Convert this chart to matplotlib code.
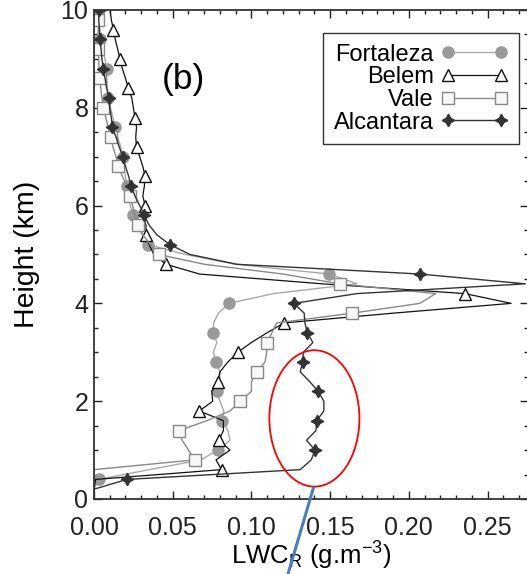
import matplotlib.pyplot as plt
import matplotlib.transforms as mtransforms
from matplotlib.lines import Line2D
from matplotlib.patches import Ellipse
from matplotlib.ticker import MultipleLocator

plt.rcParams['font.family'] = ['Liberation Sans', 'DejaVu Sans']
plt.rcParams['mathtext.fontset'] = 'custom'
plt.rcParams['mathtext.rm'] = 'Liberation Sans'
plt.rcParams['mathtext.default'] = 'regular'

################################################################################
# data: LWC_R profiles (g/m3) every 0.2 km
################################################################################
height = [0.0, 0.2, 0.4, 0.6, 0.8, 1.0, 1.2, 1.4, 1.6, 1.8,
          2.0, 2.2, 2.4, 2.6, 2.8, 3.0, 3.2, 3.4, 3.6, 3.8,
          4.0, 4.2, 4.4, 4.6, 4.8, 5.0, 5.2, 5.4, 5.6, 5.8,
          6.0, 6.2, 6.4, 6.6, 6.8, 7.0, 7.2, 7.4, 7.6, 7.8,
          8.0, 8.2, 8.4, 8.6, 8.8, 9.0, 9.2, 9.4, 9.6, 9.8, 10.0]

fortaleza = [0.0, 0.0, 0.003, 0.035, 0.068, 0.0786, 0.0864, 0.085, 0.0815, 0.0825,
             0.080, 0.078, 0.080, 0.080, 0.0775, 0.0758, 0.078, 0.0758, 0.076, 0.079,
             0.0858, 0.114, 0.167, 0.1495, 0.090, 0.058, 0.0345, 0.031, 0.027, 0.025,
             0.023, 0.022, 0.0208, 0.020, 0.019, 0.0186, 0.017, 0.015, 0.0133, 0.012,
             0.0105, 0.009, 0.0085, 0.008, 0.008, 0.007, 0.005, 0.004, 0.0035, 0.003, 0.003]

belem = [0.0, 0.0, 0.001, 0.081, 0.0775, 0.0864, 0.0794, 0.0822, 0.0822, 0.0669,
         0.0754, 0.0748, 0.0786, 0.080, 0.085, 0.0913, 0.100, 0.110, 0.1207, 0.190,
         0.265, 0.2357, 0.145, 0.067, 0.0457, 0.038, 0.035, 0.033, 0.033, 0.031,
         0.0324, 0.031, 0.032, 0.0324, 0.031, 0.029, 0.027, 0.0265, 0.027, 0.026,
         0.025, 0.024, 0.0218, 0.020, 0.018, 0.0165, 0.015, 0.0135, 0.0123, 0.011, 0.0102]

vale = [0.0, 0.0, 0.0, 0.0, 0.064, 0.060, 0.056, 0.054, 0.0716, 0.0864,
        0.0928, 0.100, 0.100, 0.1035, 0.1086, 0.1097, 0.110, 0.113, 0.116, 0.164,
        0.207, 0.217, 0.156, 0.120, 0.070, 0.041, 0.036, 0.031, 0.028, 0.026,
        0.0245, 0.023, 0.021, 0.018, 0.0155, 0.014, 0.012, 0.0108, 0.009, 0.0075,
        0.006, 0.005, 0.0043, 0.0036, 0.0032, 0.003, 0.0028, 0.0026, 0.0027, 0.0028, 0.003]

alcantara = [0.0, 0.0, 0.0208, 0.131, 0.138, 0.1404, 0.135, 0.141, 0.1415, 0.146,
             0.146, 0.1425, 0.137, 0.131, 0.1325, 0.133, 0.139, 0.1355, 0.134, 0.1335,
             0.127, 0.167, 0.274, 0.207, 0.0906, 0.061, 0.0483, 0.040, 0.035, 0.032,
             0.029, 0.026, 0.0235, 0.022, 0.020, 0.0182, 0.016, 0.014, 0.0116, 0.011,
             0.010, 0.0095, 0.008, 0.007, 0.006, 0.005, 0.0045, 0.0038, 0.0035, 0.003, 0.003]

labels = ['Fortaleza', 'Belem', 'Vale', 'Alcantara']

################################################################################
# styles
################################################################################
star4 = (4, 1, 0)
styles = [
    dict(color='#a8a8a8', lw=1.0, marker='o', ms=8, mfc='#999999', mec='#999999', markevery=(2, 3)),
    dict(color='#111111', lw=0.9, marker='^', ms=9, mfc='white', mec='#111111', mew=1.0, markevery=(3, 3)),
    dict(color='#888888', lw=1.0, marker='s', ms=9, mfc='#f7f7f7', mec='#888888', mew=1.0, markevery=(4, 3)),
    dict(color='#333333', lw=1.0, marker=star4, ms=9, mfc='#333333', mec='#333333', markevery=(2, 3)),
]

fig = plt.figure(figsize=(5.27, 5.74), dpi=100)
ax = fig.add_axes([0.1784, 0.1307, 0.8235, 0.8519])

for series, st in zip([fortaleza, belem, vale, alcantara], styles):
    ax.plot(series, height, **st)

ax.set_xlim(0, 0.2757)
ax.set_ylim(0, 10)
ax.xaxis.set_major_locator(MultipleLocator(0.05))
ax.xaxis.set_minor_locator(MultipleLocator(0.01))
ax.yaxis.set_major_locator(MultipleLocator(2))
ax.yaxis.set_minor_locator(MultipleLocator(0.5))
ax.xaxis.set_major_formatter(plt.FormatStrFormatter('%.2f'))
ax.tick_params(which='both', direction='in', top=True, right=True,
               colors='#222222', width=1.0, labelsize=18)
ax.tick_params(which='major', length=5.5)
ax.tick_params(which='minor', length=3)
ax.tick_params(axis='x', pad=12)
ax.tick_params(axis='y', pad=4)
for sp in ax.spines.values():
    sp.set_color('#333333')
    sp.set_linewidth(1.3)

# nudge the end labels of the y axis like the original (0 up, 10 down)
yticks = ax.yaxis.get_major_ticks()
lab0 = yticks[0].label1
lab0.set_transform(lab0.get_transform() + mtransforms.ScaledTranslation(0, 0.09, fig.dpi_scale_trans))
labtop = yticks[-1].label1
labtop.set_transform(labtop.get_transform() + mtransforms.ScaledTranslation(0, -0.05, fig.dpi_scale_trans))

ax.set_xlabel('LWC$_{R}$ (g.m$^{-3}$)', fontsize=18.5, labelpad=0)
ax.set_ylabel('Height (km)', fontsize=20.5, labelpad=15)

ax.text(0.2055, 0.857, '(b)', transform=ax.transAxes, fontsize=25.5,
        ha='center', va='center')

# legend with proxy handles (text right aligned, symbol after the text)
handles = []
for st in styles:
    kw = {k: v for k, v in st.items() if k != 'markevery'}
    handles.append(Line2D([], [], **kw))
leg = ax.legend(handles, labels, loc='upper right',
                bbox_to_anchor=(519 / 527, 1 - 33 / 574), bbox_transform=fig.transFigure,
                borderaxespad=0, markerfirst=False, numpoints=2, handlelength=2.85,
                handletextpad=0.3, labelspacing=0.03, borderpad=0.45, fontsize=17,
                fancybox=False, framealpha=1, edgecolor='#333333')
leg.get_frame().set_linewidth(1.0)

# highlighted region
ax.add_patch(Ellipse((0.140, 1.647), 0.0572, 2.79, fill=False,
                     edgecolor='red', lw=1.3, zorder=5))
ax.plot([0.1393, 0.1234], [0.218, -1.516], color='#4a7cc0', lw=2.2,
        clip_on=False, zorder=6)

fig.savefig('out.png', dpi=100)
